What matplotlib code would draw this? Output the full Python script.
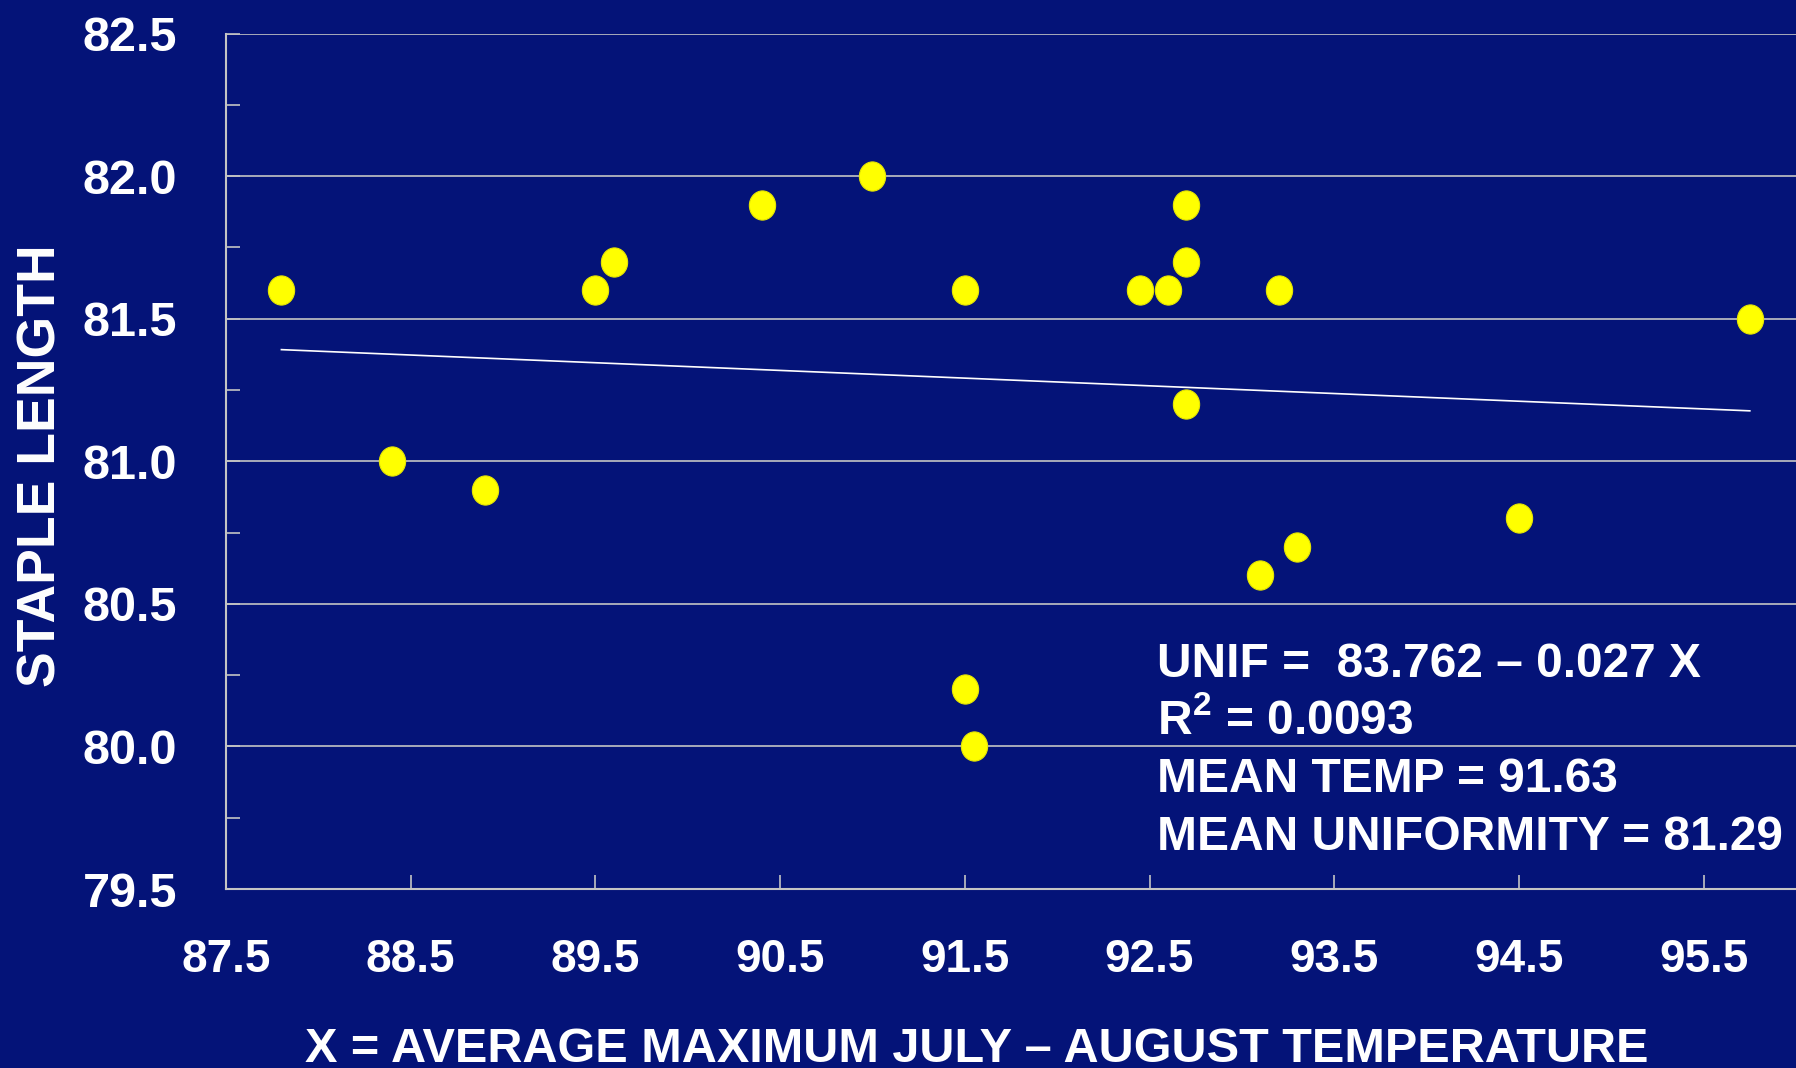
import numpy as np
import matplotlib
matplotlib.use('Agg')
import matplotlib.pyplot as plt
from matplotlib import font_manager
from matplotlib.path import Path
from matplotlib.transforms import Affine2D
from matplotlib.ticker import MultipleLocator, FormatStrFormatter

# average max July-August temperature vs staple length (uniformity)
temp = [87.8, 88.4, 88.9, 89.5, 89.6, 90.4, 91.0, 91.5, 91.5, 91.55,
        92.45, 92.6, 92.7, 92.7, 92.7, 93.2, 93.1, 93.3, 94.5, 95.75]
staple = [81.6, 81.0, 80.9, 81.6, 81.7, 81.9, 82.0, 81.6, 80.2, 80.0,
          81.6, 81.6, 81.9, 81.7, 81.2, 81.6, 80.6, 80.7, 80.8, 81.5]

# regression reported on the chart
intercept = 83.762
slope = -0.027
stats_lines = ['UNIF =  83.762 \u2013 0.027 X',
               'R$^{2}$ = 0.0093',
               'MEAN TEMP = 91.63',
               'MEAN UNIFORMITY = 81.29']

bg = '#041378'
grid_col = '#c4c4c4'


def pick_font(names):
    for n in names:
        try:
            font_manager.findfont(n, fallback_to_default=False)
            return n
        except Exception:
            pass
    return 'DejaVu Sans'


main_font = pick_font(['Liberation Sans', 'Arial'])
plt.rcParams['font.family'] = [main_font, 'DejaVu Sans']
plt.rcParams['font.weight'] = 'bold'
plt.rcParams['mathtext.fontset'] = 'custom'
plt.rcParams['mathtext.rm'] = main_font + ':bold'
plt.rcParams['mathtext.it'] = main_font + ':bold'
plt.rcParams['mathtext.bf'] = main_font + ':bold'
plt.rcParams['mathtext.default'] = 'rm'

fig = plt.figure(figsize=(17.96, 10.68), dpi=100, facecolor=bg)
ax = fig.add_axes([226 / 1796, 1 - 889 / 1068, 1 - 226 / 1796, (889 - 33.5) / 1068])
ax.set_facecolor(bg)

ax.set_xlim(87.5, 96.0)
ax.set_ylim(79.5, 82.5)

# grid at every half unit, including the top edge
ax.yaxis.set_major_locator(MultipleLocator(0.5))
ax.yaxis.set_minor_locator(MultipleLocator(0.25))
ax.set_xticks(np.arange(87.5, 96.0, 1.0))
ax.xaxis.set_major_formatter(FormatStrFormatter('%.1f'))
ax.yaxis.set_major_formatter(FormatStrFormatter('%.1f'))
ax.grid(axis='y', which='major', color=grid_col, linewidth=1.2, zorder=1)
ax.set_axisbelow(True)

for side in ['top', 'right']:
    ax.spines[side].set_visible(False)
for side in ['left', 'bottom']:
    ax.spines[side].set_color(grid_col)
    ax.spines[side].set_linewidth(1.5)

ax.tick_params(axis='both', which='both', direction='in', color=grid_col,
               width=1.2, length=10, labelcolor='white')
ax.tick_params(axis='x', labelsize=33, pad=35)
ax.tick_params(axis='y', labelsize=35, pad=35)
for lab in ax.get_xticklabels() + ax.get_yticklabels():
    lab.set_fontweight('bold')

# fitted line over the range of the data
xs = np.array([min(temp), max(temp)])
ax.plot(xs, intercept + slope * xs, color='white', linewidth=1.2, zorder=2)

oval = Path.unit_circle().transformed(Affine2D().scale(0.9, 1.0))
ax.plot(temp, staple, linestyle='none', marker=oval, markersize=21,
        markerfacecolor='#ffff00', markeredgecolor='#e6e600',
        markeredgewidth=0.8, zorder=3, clip_on=False)

ys = [0.2478, 0.1812, 0.1134, 0.0456]
for txt, yy in zip(stats_lines, ys):
    ax.text(0.593, yy, txt, transform=ax.transAxes, color='white',
            fontsize=34.5, fontweight='bold', va='baseline', ha='left')

fig.text(42 / 1796, 1 - 466 / 1068, 'STAPLE LENGTH', rotation=90, color='white',
         fontsize=38.5, fontweight='bold', ha='center', va='center')
fig.text(977 / 1796, 1 - 1049 / 1068,
         'X = AVERAGE MAXIMUM JULY \u2013 AUGUST TEMPERATURE', color='white',
         fontsize=35, fontweight='bold', ha='center', va='center')

fig.savefig('out.png', dpi=100, facecolor=bg)
